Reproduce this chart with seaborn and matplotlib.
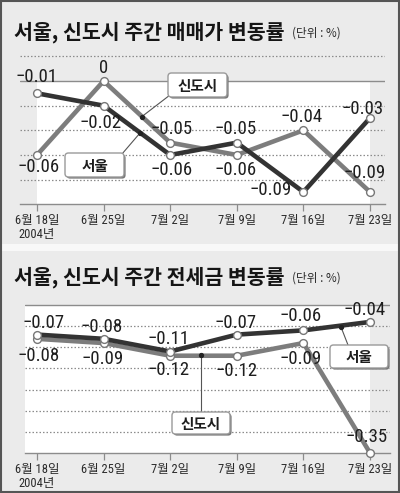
import numpy as np
import pandas as pd
import matplotlib
matplotlib.use('Agg')
import matplotlib.pyplot as plt
import seaborn as sns
from matplotlib import font_manager
from matplotlib.patches import FancyBboxPatch, Rectangle

# ---------------- data ----------------
weeks = ['6월 18일', '6월 25일', '7월 2일', '7월 9일', '7월 16일', '7월 23일']
year_label = '2004년'
sale_seoul = [-0.01, -0.02, -0.06, -0.05, -0.09, -0.03]
sale_newtown = [-0.06, 0.00, -0.05, -0.06, -0.04, -0.09]
jeonse_seoul = [-0.07, -0.08, -0.11, -0.07, -0.06, -0.04]
jeonse_newtown = [-0.08, -0.09, -0.12, -0.12, -0.09, -0.35]
title_sale = '서울, 신도시 주간 매매가 변동률'
title_jeonse = '서울, 신도시 주간 전세금 변동률'
unit_label = '(단위 : %)'
name_seoul = '서울'
name_newtown = '신도시'

# ---------------- style ----------------
sns.set_style('white')
names = {f.name for f in font_manager.fontManager.ttflist}
KR = 'Noto Sans CJK KR'
NARROW = next((n for n in ['Liberation Sans Narrow', 'Roboto Condensed', 'Roboto']
               if n in names), 'DejaVu Sans')
plt.rcParams['font.family'] = [KR, 'DejaVu Sans']

W, H = 400, 493
fig = plt.figure(figsize=(W / 100, H / 100), dpi=100)
fig.patch.set_facecolor('#ebebeb')

DARK = '#333333'
GRAY = '#7d7d7d'
GRID = '#8c8c8c'


def px_axes(l, t, r, b, z):
    return fig.add_axes([l / W, 1 - b / H, (r - l) / W, (b - t) / H], zorder=z)


bg = px_axes(0, 0, W, H, 0)
bg.set_xlim(0, W)
bg.set_ylim(H, 0)
bg.axis('off')
bg.add_patch(Rectangle((0, 244), W, 7, fc='#f8f8f8', ec='none'))
bg.add_patch(Rectangle((0.75, 0.75), W - 1.5, H - 1.5, fc='none', ec='#555555', lw=1.5))


def fmt(v):
    return '0' if v == 0 else '\u2212' + f'{abs(v):.2f}'


def draw_panel(ax, seoul, newtown, ylim, xlim, dotted, white_x0, off_s, off_n):
    df = pd.DataFrame({
        'week': list(range(len(weeks))) * 2,
        'value': list(newtown) + list(seoul),
        'region': [name_newtown] * len(weeks) + [name_seoul] * len(weeks),
    })
    ax.set_facecolor('none')
    ax.add_patch(Rectangle((white_x0, ylim[0]), 5 - white_x0, 0 - ylim[0],
                           fc='white', ec='none', zorder=0))
    for g in dotted:
        ax.axhline(g, color=GRID, lw=0.9, ls=(0, (1.2, 1.6)), zorder=1)
    ax.axhline(0, color=GRID, lw=1.0, zorder=1)
    sns.lineplot(data=df, x='week', y='value', hue='region',
                 hue_order=[name_newtown, name_seoul],
                 palette={name_newtown: GRAY, name_seoul: DARK},
                 linewidth=3.3, marker='o', markersize=5.6,
                 markerfacecolor='white', markeredgecolor='#777777',
                 markeredgewidth=1.0, errorbar=None, legend=False,
                 ax=ax, clip_on=False, zorder=3)
    ax.set_xlim(*xlim)
    ax.set_ylim(*ylim)
    for s in ['top', 'left', 'right']:
        ax.spines[s].set_visible(False)
    ax.spines['bottom'].set_color(GRID)
    ax.spines['bottom'].set_linewidth(1.0)
    ax.set_yticks([])
    ax.set_xticks(range(len(weeks)))
    ax.set_xticklabels([weeks[0] + '\n' + year_label] + weeks[1:],
                       fontfamily=[NARROW, KR], fontsize=9, color='#2a2a2a',
                       linespacing=1.1)
    ax.tick_params(axis='x', direction='out', length=5, width=0.9,
                   color=GRID, pad=2, bottom=True)
    ax.set_xlabel('')
    ax.set_ylabel('')
    for vals, offs in ((seoul, off_s), (newtown, off_n)):
        for i, (v, (dx, dy)) in enumerate(zip(vals, offs)):
            ax.annotate(fmt(v), (i, v), xytext=(dx * 0.72, dy * 0.72),
                        textcoords='offset points', ha='center', va='center',
                        fontsize=13.5, fontfamily=[NARROW, KR], color='#1e1e1e',
                        zorder=5, annotation_clip=False)


# top panel (pixel layout)
ax1 = px_axes(20, 44, 385, 204.3, 2)
draw_panel(ax1, sale_seoul, sale_newtown, (-0.10, 0.03), (-0.255, 5.225),
           [0.02, -0.02, -0.04, -0.06, -0.08], 0.0,
           [(0, 16), (-3, -17), (1, -15), (-1, 14), (-33, 2), (-7, 9)],
           [(2, -12), (0, 13), (1, 14), (-1, -15), (-2, 13), (-5, 19)])

# bottom panel
ax2 = px_axes(25, 300.8, 390, 452.9, 2)
draw_panel(ax2, jeonse_seoul, jeonse_newtown, (-0.35, 0.01), (-0.18, 5.30),
           [-0.05, -0.10, -0.15, -0.20, -0.25, -0.30], -0.18,
           [(7, 12), (-2, 12), (-2, 12), (-1, 12), (-3, 14), (-5, 12)],
           [(2, -17), (-1, -16), (-2, -14), (0, -15), (-3, -16), (-3, 16)])

# overlay: titles, name boxes
ov = px_axes(0, 0, W, H, 10)
ov.set_xlim(0, W)
ov.set_ylim(H, 0)
ov.axis('off')
ov.set_facecolor('none')

for ty, t in ((32, title_sale), (277, title_jeonse)):
    ov.text(14, ty, t, ha='left', va='center', fontsize=14.8, fontweight='bold',
            color='#151515')
    ov.text(292, ty + 1, unit_label, ha='left', va='center', fontsize=8.4,
            color='#2a2a2a')


def name_box(x0, y0, x1, y1, text, lf, lt):
    ov.plot([lf[0], lt[0]], [lf[1], lt[1]], color='#555555', lw=0.8, zorder=1)
    ov.plot([lt[0]], [lt[1]], 'o', color='#222222', ms=2.8, zorder=2)
    w, h = x1 - x0, y1 - y0
    ov.add_patch(FancyBboxPatch((x0 + 1.6, y0 + 1.6), w, h,
                                boxstyle='round,pad=0,rounding_size=3.5',
                                fc='#777777', ec='none', zorder=3))
    ov.add_patch(FancyBboxPatch((x0, y0), w, h,
                                boxstyle='round,pad=0,rounding_size=3.5',
                                fc='white', ec='#9a9a9a', lw=1.0, zorder=4))
    ov.text((x0 + x1) / 2, (y0 + y1) / 2 + 0.5, text, ha='center', va='center',
            fontsize=10.5, fontweight='bold', color='#1e1e1e', zorder=5)


name_box(168, 73, 227, 97, name_newtown, (170, 95), (142, 116.5))
name_box(65, 153, 124, 177, name_seoul, (122, 154), (140, 133))
name_box(330, 345, 388, 368, name_seoul, (348, 345), (341, 327))
name_box(172, 412, 230, 434, name_newtown, (201, 412), (201, 355))

fig.savefig('out.png', dpi=100, facecolor=fig.get_facecolor())
